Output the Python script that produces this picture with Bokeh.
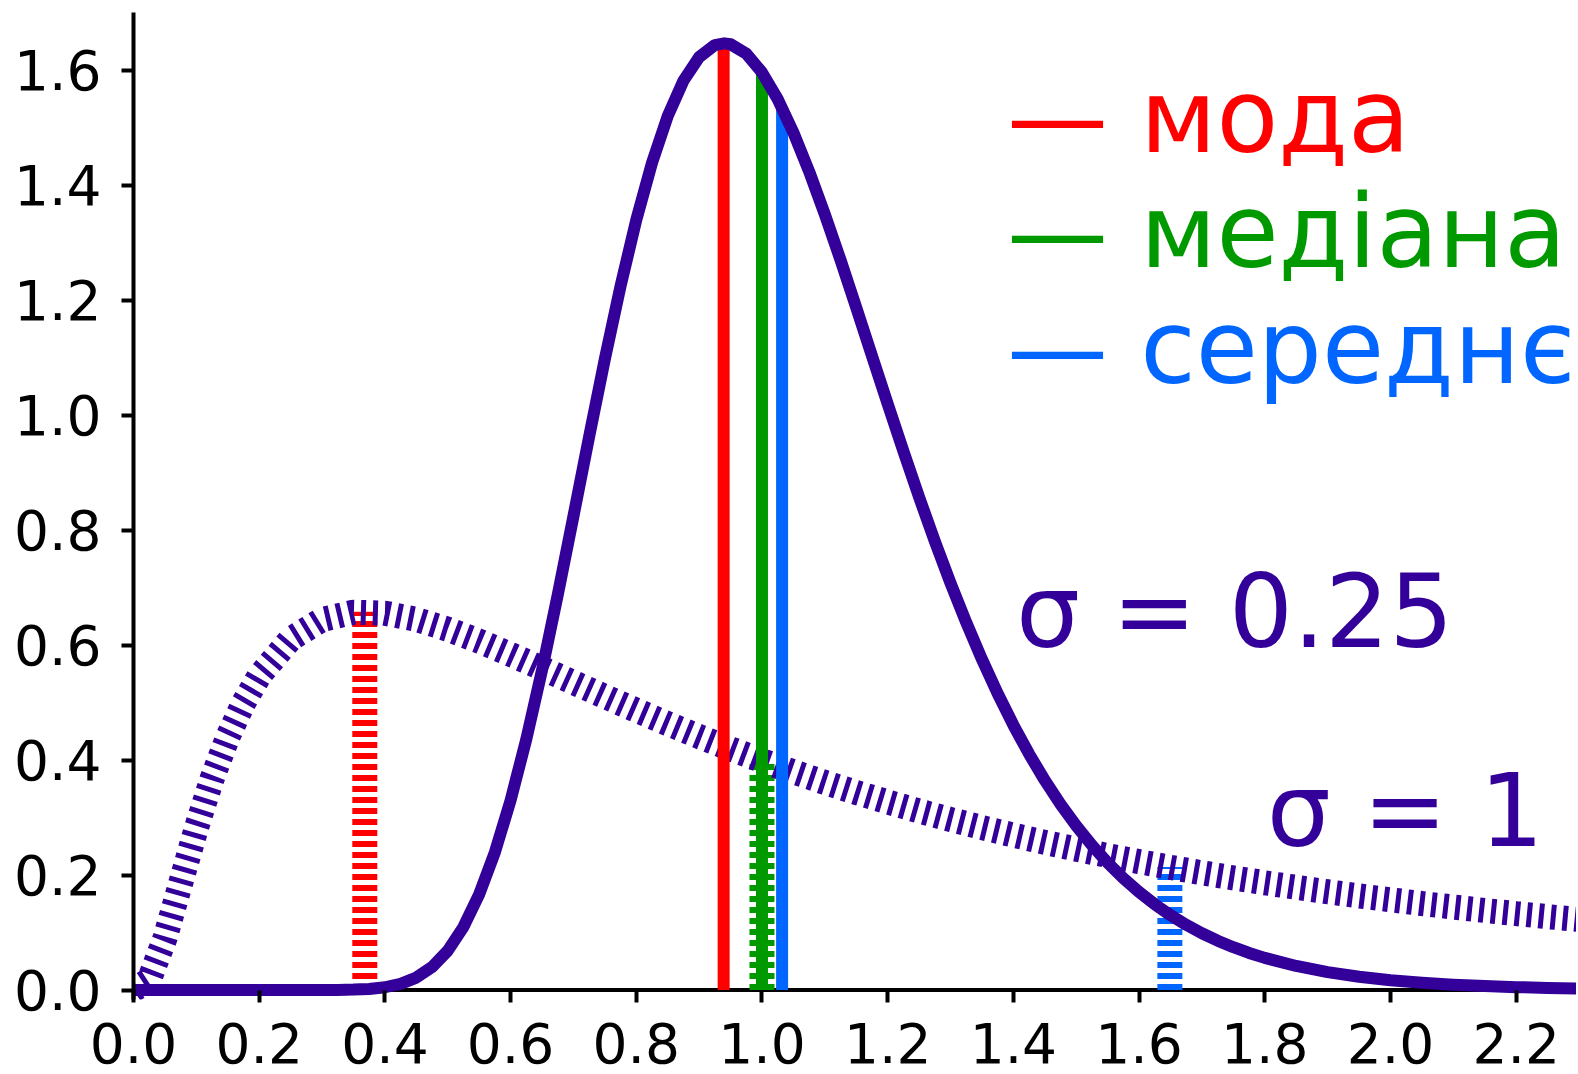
from bokeh.plotting import figure
from bokeh.models import Range1d, FixedTicker, Span, PrintfTickFormatter
from bokeh.embed import file_html
from bokeh.resources import INLINE
from bokeh.core.properties import value

# ---- data ----
# log-normal density, sigma = 0.25 (solid curve)
x_s025 = [0.0, 0.1, 0.2, 0.3, 0.325, 0.35, 0.375, 0.4, 0.425, 0.45, 0.475, 0.5, 0.525,
          0.55, 0.575, 0.6, 0.625, 0.65, 0.675, 0.7, 0.725, 0.75, 0.775, 0.8, 0.825,
          0.85, 0.875, 0.9, 0.925, 0.94, 0.95, 0.975, 1.0, 1.025, 1.05, 1.075, 1.1,
          1.125, 1.15, 1.175, 1.2, 1.225, 1.25, 1.275, 1.3, 1.325, 1.35, 1.375, 1.4,
          1.425, 1.45, 1.475, 1.5, 1.525, 1.55, 1.575, 1.6, 1.625, 1.65, 1.675, 1.7,
          1.725, 1.75, 1.775, 1.8, 1.85, 1.9, 1.95, 2.0, 2.05, 2.1, 2.15, 2.2, 2.25, 2.3]
y_s025 = [0.0, 0.0, 0.0, 0.0001, 0.0002, 0.0007, 0.0019, 0.0048, 0.0107, 0.0216,
          0.0399, 0.0683, 0.1097, 0.1663, 0.2395, 0.3298, 0.4361, 0.5563, 0.6870,
          0.8239, 0.9623, 1.0974, 1.2244, 1.3392, 1.4386, 1.5198, 1.5813, 1.6224,
          1.6433, 1.6464, 1.6448, 1.6283, 1.5958, 1.5493, 1.4911, 1.4236, 1.3490,
          1.2695, 1.1869, 1.1030, 1.0193, 0.9370, 0.8571, 0.7805, 0.7077, 0.6392,
          0.5751, 0.5156, 0.4608, 0.4105, 0.3647, 0.3231, 0.2856, 0.2518, 0.2215,
          0.1944, 0.1704, 0.1490, 0.1301, 0.1134, 0.0987, 0.0858, 0.0745, 0.0645,
          0.0559, 0.0418, 0.0311, 0.0231, 0.0171, 0.0126, 0.0093, 0.0068, 0.0050,
          0.0037, 0.0027]

# log-normal density, sigma = 1 (dashed curve)
x_s1 = [0.0, 0.025, 0.05, 0.075, 0.1, 0.125, 0.15, 0.175, 0.2, 0.25, 0.3, 0.35, 0.4,
        0.45, 0.5, 0.55, 0.6, 0.65, 0.7, 0.75, 0.8, 0.85, 0.9, 0.95, 1.0, 1.05, 1.1,
        1.15, 1.2, 1.25, 1.3, 1.35, 1.4, 1.45, 1.5, 1.55, 1.6, 1.65, 1.7, 1.75, 1.8,
        1.85, 1.9, 1.95, 2.0, 2.05, 2.1, 2.15, 2.2, 2.25, 2.3]
y_s1 = [0.0, 0.0177, 0.0898, 0.1857, 0.2816, 0.3674, 0.4398, 0.4991, 0.5462, 0.6105,
        0.6442, 0.6570, 0.6554, 0.6445, 0.6275, 0.6067, 0.5836, 0.5594, 0.5348,
        0.5104, 0.4864, 0.4632, 0.4408, 0.4194, 0.3989, 0.3795, 0.3610, 0.3435,
        0.3270, 0.3113, 0.2965, 0.2825, 0.2693, 0.2568, 0.2450, 0.2338, 0.2233,
        0.2133, 0.2039, 0.1949, 0.1865, 0.1785, 0.1709, 0.1637, 0.1569, 0.1504,
        0.1443, 0.1384, 0.1329, 0.1276, 0.1226]

# mode / median / mean markers
stat_labels = ["— мода", "— медіана", "— середнє"]
stat_colors = ["#ff0000", "#009900", "#0066ff"]
s025_stat_x = [0.939, 1.0, 1.032]
s025_stat_h = [1.646, 1.596, 1.535]
s1_stat_x = [0.368, 1.0, 1.649]
s1_stat_h = [0.658, 0.399, 0.214]

sigma_labels = ["σ = 0.25", "σ = 1"]

x_ticks = [0.0, 0.2, 0.4, 0.6, 0.8, 1.0, 1.2, 1.4, 1.6, 1.8, 2.0, 2.2]
y_ticks = [0.0, 0.2, 0.4, 0.6, 0.8, 1.0, 1.2, 1.4, 1.6]

PURPLE = "#330099"
FONT = "DejaVu Sans"

p = figure(width=1576, height=1074, output_backend="svg", toolbar_location=None,
           x_range=Range1d(0, 2.296), y_range=Range1d(-0.0165, 1.7),
           min_border_left=133, min_border_right=0, min_border_top=12,
           min_border_bottom=75)
p.outline_line_color = None
p.xgrid.visible = False
p.ygrid.visible = False
p.background_fill_color = "white"

# x axis baseline at y = 0
p.add_layout(Span(location=0, dimension="width", line_color="black",
                  line_width=4, level="underlay"))

# dashed verticals (sigma = 1)
p.segment(x0=s1_stat_x, y0=[0, 0, 0], x1=s1_stat_x, y1=s1_stat_h,
          line_color=stat_colors, line_width=25, line_dash="6 5", line_cap="butt")
# dashed curve
p.line(x_s1, y_s1, line_color=PURPLE, line_width=25, line_dash="5 7", line_cap="butt")
# solid verticals (sigma = 0.25)
p.segment(x0=s025_stat_x, y0=[0, 0, 0], x1=s025_stat_x, y1=s025_stat_h,
          line_color=stat_colors, line_width=12, line_cap="butt")
# solid curve
p.line(x_s025, y_s025, line_color=PURPLE, line_width=12, line_join="round")

# legend-like labels
p.text(x=[1.39, 1.39, 1.39], y=[1.519, 1.318, 1.117], text=stat_labels,
       text_color=stat_colors, text_font=value(FONT), text_font_size="101px",
       text_baseline="alphabetic", text_align="left")
p.text(x=[1.404, 1.803], y=[0.658, 0.311], text=sigma_labels, text_color=PURPLE,
       text_font=value(FONT), text_font_size="101px",
       text_baseline="alphabetic", text_align="left")

for ax in (p.xaxis[0], p.yaxis[0]):
    ax.major_label_text_font = FONT
    ax.major_label_text_font_size = "55px"
    ax.major_label_text_color = "black"
    ax.minor_tick_line_color = None
    ax.major_tick_line_width = 4
    ax.major_tick_line_color = "black"
    ax.formatter = PrintfTickFormatter(format="%.1f")

p.xaxis[0].ticker = FixedTicker(ticks=x_ticks)
p.xaxis[0].axis_line_color = None
p.xaxis[0].major_tick_in = 9
p.xaxis[0].major_tick_out = 3
p.xaxis[0].major_label_standoff = 20

p.yaxis[0].ticker = FixedTicker(ticks=y_ticks)
p.yaxis[0].axis_line_width = 4
p.yaxis[0].axis_line_color = "black"
p.yaxis[0].major_tick_in = 0
p.yaxis[0].major_tick_out = 12
p.yaxis[0].major_label_standoff = 20

open("out.html", "w").write(file_html(p, INLINE))
